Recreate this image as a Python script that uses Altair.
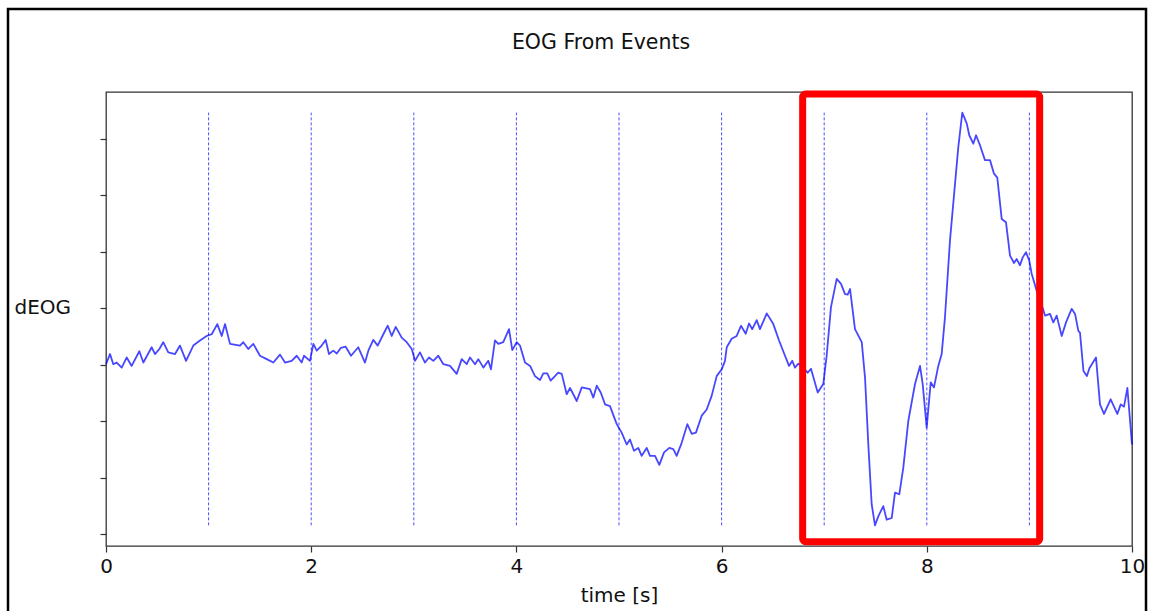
import altair as alt
import pandas as pd

# EOG signal (time in s, value in arbitrary units; y ticks at integers)
times = [0.000, 0.039, 0.071, 0.104, 0.153, 0.202, 0.250, 0.325, 0.364, 0.445, 0.478, 0.520, 0.558, 0.607,
         0.673, 0.721, 0.780, 0.851, 0.916, 0.981, 1.030, 1.085, 1.128, 1.160, 1.209, 1.306, 1.338, 1.387,
         1.436, 1.501, 1.566, 1.631, 1.696, 1.745, 1.810, 1.859, 1.907, 1.930, 1.988, 2.021,
         2.054, 2.102, 2.141, 2.173, 2.215, 2.249, 2.290, 2.336, 2.388, 2.459, 2.524, 2.557, 2.605, 2.648,
         2.703, 2.746, 2.785, 2.824, 2.882, 2.931, 2.980, 3.012, 3.060, 3.109, 3.148, 3.190, 3.239, 3.288,
         3.353, 3.418, 3.467, 3.516, 3.548, 3.597, 3.629, 3.678, 3.726, 3.752, 3.791, 3.824, 3.872, 3.928,
         3.960, 4.003,
         4.035, 4.084, 4.133, 4.181, 4.230, 4.262, 4.301, 4.334, 4.408, 4.442, 4.490, 4.523, 4.588, 4.637,
         4.717, 4.750, 4.783, 4.822, 4.864, 4.912, 4.978, 5.026, 5.075, 5.107, 5.146, 5.188, 5.221, 5.270,
         5.302, 5.351, 5.393, 5.439, 5.490, 5.529, 5.562, 5.611, 5.666, 5.709, 5.750, 5.806, 5.855, 5.903,
         5.952, 6.001, 6.033,
         6.050, 6.098, 6.147, 6.189, 6.235, 6.267, 6.299, 6.342, 6.374, 6.440, 6.504, 6.560, 6.618, 6.657,
         6.689, 6.715, 6.748, 6.793, 6.839, 6.871, 6.937, 6.991, 7.024, 7.066, 7.122, 7.164, 7.203, 7.229,
         7.252, 7.300, 7.366, 7.398, 7.430, 7.463, 7.495,
         7.527, 7.576, 7.609, 7.658, 7.690, 7.732, 7.771, 7.820, 7.885, 7.934, 7.960, 7.999, 8.038, 8.070,
         8.112, 8.145, 8.177, 8.226, 8.275, 8.307, 8.346, 8.389, 8.414, 8.453, 8.480, 8.519, 8.567, 8.616,
         8.655, 8.687, 8.730, 8.772, 8.811, 8.850, 8.876, 8.908, 8.935, 8.967, 8.999, 9.022, 9.071,
         9.113, 9.152, 9.201, 9.233, 9.266, 9.315, 9.357, 9.412, 9.445, 9.477, 9.493, 9.527, 9.560, 9.585,
         9.649, 9.688, 9.727, 9.792, 9.857, 9.890, 9.922, 9.955, 10.000]
values = [0.01, 0.19, 0.01, 0.04, -0.05, 0.13, -0.02, 0.24, 0.04, 0.31, 0.19, 0.28, 0.40, 0.22,
          0.19, 0.34, 0.07, 0.34, 0.43, 0.51, 0.54, 0.72, 0.51, 0.72, 0.37, 0.34, 0.40, 0.28,
          0.37, 0.16, 0.10, 0.04, 0.18, 0.04, 0.07, 0.16, 0.04, 0.16, 0.07, 0.37,
          0.25, 0.34, 0.44, 0.19, 0.25, 0.20, 0.30, 0.32, 0.16, 0.31, 0.04, 0.25, 0.44, 0.34,
          0.54, 0.69, 0.51, 0.67, 0.48, 0.40, 0.28, 0.07, 0.22, 0.04, 0.13, 0.07, 0.16, 0.01,
          -0.02, -0.16, 0.10, 0.01, 0.13, 0.01, 0.10, -0.05, 0.07, -0.08, 0.43, 0.37, 0.40, 0.63,
          0.26, 0.40,
          0.34, 0.04, -0.02, -0.20, -0.27, -0.15, -0.15, -0.28, -0.14, -0.16, -0.52, -0.41, -0.64, -0.40,
          -0.43, -0.58, -0.37, -0.49, -0.70, -0.73, -1.05, -1.20, -1.41, -1.32, -1.52, -1.47, -1.61, -1.47,
          -1.61, -1.61, -1.77, -1.55, -1.47, -1.49, -1.61, -1.38, -1.05, -1.22, -1.20, -0.90, -0.79, -0.55,
          -0.20, -0.08, 0.07,
          0.31, 0.46, 0.51, 0.69, 0.55, 0.73, 0.63, 0.79, 0.63, 0.91, 0.72, 0.43, 0.16, -0.02,
          0.07, -0.05, 0.02, -0.04, -0.14, -0.07, -0.49, -0.34, 0.16, 1.02, 1.52, 1.43, 1.25, 1.24,
          1.34, 0.63, 0.40, -0.23, -1.41, -2.47, -2.84,
          -2.68, -2.50, -2.74, -2.71, -2.26, -2.29, -1.82, -0.99, -0.34, -0.02, -0.34, -1.11, -0.31, -0.40,
          -0.02, 0.19, 0.84, 2.20, 3.20, 3.85, 4.46, 4.27, 4.06, 3.91, 4.06, 3.88, 3.62, 3.62,
          3.38, 3.31, 2.58, 2.52, 1.93, 1.80, 1.87, 1.76, 1.90, 1.99, 1.84, 1.61, 1.31,
          1.10, 0.87, 0.90, 0.75, 0.87, 0.51, 0.75, 0.99, 0.90, 0.60, 0.57, -0.11, -0.20, -0.06,
          0.13, -0.70, -0.87, -0.61, -0.87, -0.70, -0.74, -0.41, -1.41]

event_times = [1, 2, 3, 4, 5, 6, 7, 8, 9]
x_ticks = [0, 2, 4, 6, 8, 10]
y_ticks = [-3, -2, -1, 0, 1, 2, 3, 4]

# highlight box (data coordinates)
box_x = [6.79, 9.10]
box_y = [-3.13, 4.79]

sig = pd.DataFrame({"t": times, "v": values})
vmin, vmax = min(values), max(values)
ev = pd.DataFrame({"t": event_times, "lo": [vmin] * len(event_times), "hi": [vmax] * len(event_times)})
box = pd.DataFrame({"x0": [box_x[0]], "x1": [box_x[1]], "y0": [box_y[0]], "y1": [box_y[1]]})

FONT = "DejaVu Sans"
xscale = alt.Scale(domain=[0, 10], nice=False, zero=False)
yscale = alt.Scale(domain=[-3.205, 4.825], nice=False, zero=False)

xaxis = alt.Axis(values=x_ticks, title="time [s]", grid=False, tickSize=6, tickColor="#333333",
                 tickWidth=1.2, domain=False, labelFlush=False, labelFontSize=20, labelFont=FONT,
                 labelColor="#111111", labelPadding=4,
                 titleFontSize=20, titleFont=FONT, titleFontWeight="normal", titleColor="#111111",
                 titlePadding=9, format="d")
yaxis = alt.Axis(values=y_ticks, title="dEOG", grid=False, tickSize=6, tickColor="#333333",
                 tickWidth=1.2, domain=False, labels=False, titleFontSize=20, titleFont=FONT,
                 titleFontWeight="normal",
                 titleColor="#111111", titleAngle=0, titleAlign="left", titleBaseline="middle",
                 titleX=-92, titleY=215)

frame = alt.Chart(alt.Data(values=[{}])).mark_rect(
    fillOpacity=0, stroke="black", strokeWidth=2.5
).encode(x=alt.value(-98), x2=alt.value(1040), y=alt.value(-83), y2=alt.value(560))

vlines = alt.Chart(ev).mark_rule(color="blue", strokeWidth=1, strokeDash=[3, 2], opacity=0.7).encode(
    x=alt.X("t:Q", scale=xscale, axis=xaxis),
    y=alt.Y("lo:Q", scale=yscale, axis=yaxis),
    y2="hi:Q",
)

line = alt.Chart(sig).mark_line(color="blue", strokeWidth=1.8, opacity=0.72, strokeJoin="round").encode(
    x=alt.X("t:Q", scale=xscale, axis=xaxis),
    y=alt.Y("v:Q", scale=yscale, axis=yaxis),
)

hl = alt.Chart(box).mark_rect(fillOpacity=0, stroke="#ff0000", strokeWidth=7, cornerRadius=3).encode(
    x=alt.X("x0:Q", scale=xscale, axis=xaxis), x2="x1:Q",
    y=alt.Y("y0:Q", scale=yscale, axis=yaxis), y2="y1:Q",
)

chart = alt.layer(frame, vlines, line, hl).properties(
    width=1026,
    height=454,
    background="white",
    autosize=alt.AutoSizeParams(type="none"),
    padding={"left": 106, "top": 92, "right": 17, "bottom": 65},
    title=alt.TitleParams("EOG From Events", fontSize=20.5, font=FONT, fontWeight="normal",
                          color="#111111", anchor="middle", dx=-18, offset=-46),
).configure_view(stroke="#333333", strokeWidth=1.3)

chart.save("out.html", embed_options={"renderer": "svg", "actions": False})
